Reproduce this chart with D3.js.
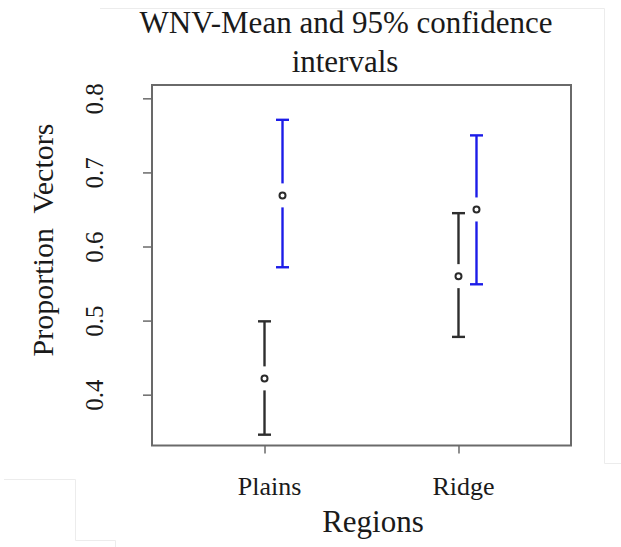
<!DOCTYPE html>
<html>
<head>
<meta charset="utf-8">
<script src="https://cdn.jsdelivr.net/npm/d3@7"></script>
<style>
  html, body { margin: 0; padding: 0; background: #fff; }
  svg { display: block; font-family: "Liberation Serif", "Times New Roman", serif; }
</style>
</head>
<body>
<svg id="chart" width="621" height="547"></svg>
<script>
// Regions on the x axis
const regions = ["Plains", "Ridge"];

// First group (black): means and 95% confidence limits
const blackMean  = [0.422, 0.560];
const blackLower = [0.346, 0.478];
const blackUpper = [0.499, 0.645];

// Second group (blue): means and 95% confidence limits
const blueMean  = [0.669, 0.650];
const blueLower = [0.572, 0.549];
const blueUpper = [0.771, 0.750];

// Y axis ticks
const yTicks = [0.4, 0.5, 0.6, 0.7, 0.8];

const svg = d3.select("#chart");

const box = { left: 152, right: 571, top: 85, bottom: 445.5 };

const x = d3.scalePoint()
  .domain(regions)
  .range([box.left, box.right])
  .padding(0.58);

const y = d3.scaleLinear()
  .domain([0.3314, 0.818])
  .range([box.bottom, box.top]);

// faint frame lines around the figure
const faint = svg.append("g").attr("stroke", "#ececec").attr("stroke-width", 1).attr("fill", "none");
faint.append("path").attr("d", "M100,8.5H604.5V463.5H621");
faint.append("path").attr("d", "M4,479.5H75.5V540.5H115.5V547");

// Plot frame
svg.append("rect")
  .attr("x", box.left).attr("y", box.top)
  .attr("width", box.right - box.left)
  .attr("height", box.bottom - box.top)
  .attr("fill", "none")
  .attr("stroke", "#6a6a6a")
  .attr("stroke-width", 2);

// Y axis
const yAxis = svg.append("g")
  .attr("transform", `translate(${box.left},0)`)
  .call(d3.axisLeft(y).tickValues(yTicks).tickSize(9).tickFormat(d3.format(".1f")));
yAxis.select(".domain").attr("stroke", "#6a6a6a").attr("stroke-width", 1.5)
  .attr("d", `M0,${y(0.4)}V${y(0.8)}`);
yAxis.selectAll(".tick line").attr("stroke", "#6a6a6a").attr("stroke-width", 1.5);
yAxis.selectAll(".tick text")
  .attr("fill", "#1a1a1a")
  .attr("font-size", 25)
  .attr("font-family", "Liberation Serif, Times New Roman, serif")
  .attr("text-anchor", "middle")
  .attr("x", null).attr("dy", null)
  .attr("transform", "translate(-49,0) rotate(-90)");

// X axis
const xAxis = svg.append("g")
  .attr("transform", `translate(0,${box.bottom})`)
  .call(d3.axisBottom(x).tickSize(8).tickFormat(""));
xAxis.select(".domain").remove();
xAxis.selectAll(".tick line").attr("stroke", "#6a6a6a").attr("stroke-width", 1.5);

svg.append("g").selectAll("text")
  .data(regions)
  .join("text")
  .attr("x", d => x(d) + 5)
  .attr("y", 495)
  .attr("text-anchor", "middle")
  .attr("font-size", 26)
  .attr("fill", "#1a1a1a")
  .text(d => d);

// Axis titles and chart title
svg.append("text")
  .attr("x", 373).attr("y", 531.5)
  .attr("text-anchor", "middle")
  .attr("font-size", 31)
  .attr("fill", "#1a1a1a")
  .text("Regions");

svg.append("text")
  .attr("transform", "translate(53,240) rotate(-90)")
  .attr("text-anchor", "middle")
  .attr("font-size", 30)
  .attr("fill", "#1a1a1a")
  .attr("xml:space", "preserve")
  .style("white-space", "pre")
  .text("Proportion  Vectors");

const title = svg.append("text")
  .attr("text-anchor", "middle")
  .attr("font-size", 31)
  .attr("fill", "#1a1a1a");
title.append("tspan").attr("x", 346).attr("y", 33).text("WNV-Mean and 95% confidence");
title.append("tspan").attr("x", 345).attr("y", 72).text("intervals");

// Error bars with a gap around each mean marker
function drawCI(mean, lower, upper, offset, color) {
  const g = svg.append("g").attr("stroke", color).attr("fill", "none");
  const gap = 12, cap = 6.5;
  regions.forEach((r, i) => {
    const cx = x(r) + offset;
    const ym = y(mean[i]), yl = y(lower[i]), yu = y(upper[i]);
    g.append("line").attr("x1", cx).attr("x2", cx).attr("y1", yu).attr("y2", ym - gap).attr("stroke-width", 2.4);
    g.append("line").attr("x1", cx).attr("x2", cx).attr("y1", ym + gap).attr("y2", yl).attr("stroke-width", 2.4);
    g.append("line").attr("x1", cx - cap).attr("x2", cx + cap).attr("y1", yu).attr("y2", yu).attr("stroke-width", 2.4);
    g.append("line").attr("x1", cx - cap).attr("x2", cx + cap).attr("y1", yl).attr("y2", yl).attr("stroke-width", 2.4);
    svg.append("circle").attr("cx", cx).attr("cy", ym).attr("r", 3)
      .attr("fill", "none").attr("stroke", "#2a2a2a").attr("stroke-width", 2);
  });
}

drawCI(blackMean, blackLower, blackUpper, 0, "#2e2e2e");
drawCI(blueMean, blueLower, blueUpper, 18, "#1c1ce8");
</script>
</body>
</html>
